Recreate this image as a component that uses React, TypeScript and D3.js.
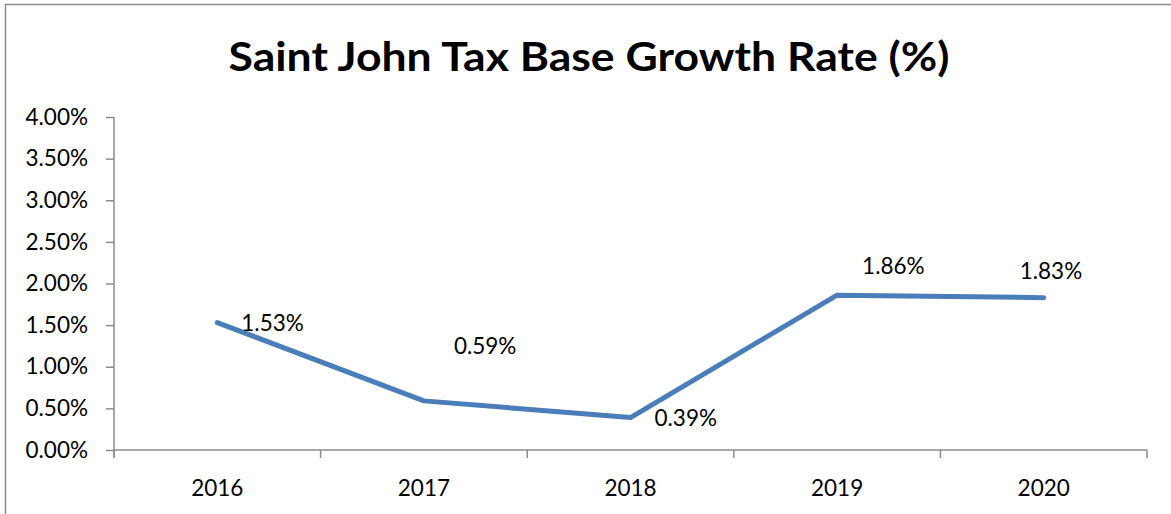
import React, { useRef, useEffect } from "react";
import * as d3 from "d3";

const years = ["2016", "2017", "2018", "2019", "2020"];
const growthRates = [1.53, 0.59, 0.39, 1.86, 1.83];
const yTicks = [0, 0.5, 1, 1.5, 2, 2.5, 3, 3.5, 4];
// label offsets from each point (dx, dy), as placed in the source
const labelDx = [24, 30, 24, 25, -24];
const labelDy = [0, -55, 1, -29, -27];

const App = () => {
  const chartRef = useRef(null);

  useEffect(() => {
    const width = 1171;
    const height = 514;
    const margin = { top: 117, right: 24, bottom: 64, left: 114 };
    const font = "Lato, 'Open Sans', sans-serif";
    const fontSize = 22.5;

    const container = d3.select(chartRef.current);
    container.select("svg").remove();

    const svg = container
      .append("svg")
      .attr("width", width)
      .attr("height", height)
      .style("position", "absolute")
      .style("left", 0)
      .style("top", 0)
      .style("background", "#fff");

    // outer chart border (only top/left visible in the crop)
    svg
      .append("rect")
      .attr("x", 5.5)
      .attr("y", 4.5)
      .attr("width", width + 10)
      .attr("height", height + 10)
      .attr("fill", "none")
      .attr("stroke", "#8c8c8c")
      .attr("stroke-width", 1.5);

    svg
      .append("text")
      .attr("x", 589)
      .attr("y", 71)
      .attr("text-anchor", "middle")
      .attr("font-family", font)
      .attr("font-weight", "bold")
      .attr("font-size", 40)
      .attr("textLength", 721)
      .attr("lengthAdjust", "spacingAndGlyphs")
      .attr("fill", "#000")
      .text("Saint John Tax Base Growth Rate (%)");

    const x = d3
      .scaleBand()
      .domain(years)
      .range([margin.left, width - margin.right]);

    const y = d3
      .scaleLinear()
      .domain([0, 4])
      .range([height - margin.bottom, margin.top]);

    const axisColor = "#8c8c8c";

    // y axis
    const yAxis = d3
      .axisLeft(y)
      .tickValues(yTicks)
      .tickSize(8)
      .tickPadding(18)
      .tickFormat((d: any) => `${(+d).toFixed(2)}%`);

    const gy = svg
      .append("g")
      .attr("transform", `translate(${margin.left},0)`)
      .call(yAxis);
    gy.select(".domain").attr("stroke", axisColor).attr("stroke-width", 1.5)
      .attr("d", `M0,${y(4)}V${y(0) + 7}`);
    gy.selectAll(".tick line").attr("stroke", axisColor).attr("stroke-width", 1.5);
    gy.selectAll(".tick text")
      .attr("font-family", font)
      .attr("font-size", fontSize)
      .attr("fill", "#000");

    // x axis with ticks between categories
    const gx = svg
      .append("g")
      .attr("transform", `translate(0,${y(0)})`);
    gx.append("line")
      .attr("x1", margin.left)
      .attr("x2", width - margin.right)
      .attr("stroke", axisColor)
      .attr("stroke-width", 1.5);
    const edges = years.map((d) => x(d)!).concat([x(years[years.length - 1])! + x.bandwidth()]);
    gx.selectAll(".xt")
      .data(edges)
      .enter()
      .append("line")
      .attr("x1", (d) => d)
      .attr("x2", (d) => d)
      .attr("y1", 0)
      .attr("y2", 8)
      .attr("stroke", axisColor)
      .attr("stroke-width", 1.5);
    gx.selectAll(".xl")
      .data(years)
      .enter()
      .append("text")
      .attr("x", (d) => x(d)! + x.bandwidth() / 2)
      .attr("y", 46)
      .attr("text-anchor", "middle")
      .attr("font-family", font)
      .attr("font-size", fontSize)
      .attr("fill", "#000")
      .text((d) => d);

    // line
    const line = d3
      .line<number>()
      .x((_, i) => x(years[i])! + x.bandwidth() / 2)
      .y((d) => y(d));

    svg
      .append("path")
      .datum(growthRates)
      .attr("d", line)
      .attr("fill", "none")
      .attr("stroke", "#4a7ebb")
      .attr("stroke-width", 5)
      .attr("stroke-linecap", "round")
      .attr("stroke-linejoin", "round");

    // data labels
    svg
      .selectAll(".lbl")
      .data(growthRates)
      .enter()
      .append("text")
      .attr("x", (_, i) => x(years[i])! + x.bandwidth() / 2 + labelDx[i])
      .attr("y", (d, i) => y(d) + labelDy[i])
      .attr("dy", "0.35em")
      .attr("font-family", font)
      .attr("font-size", fontSize)
      .attr("fill", "#000")
      .text((d) => `${d.toFixed(2)}%`);
  }, []);

  return <div ref={chartRef} />;
};

export default App;
